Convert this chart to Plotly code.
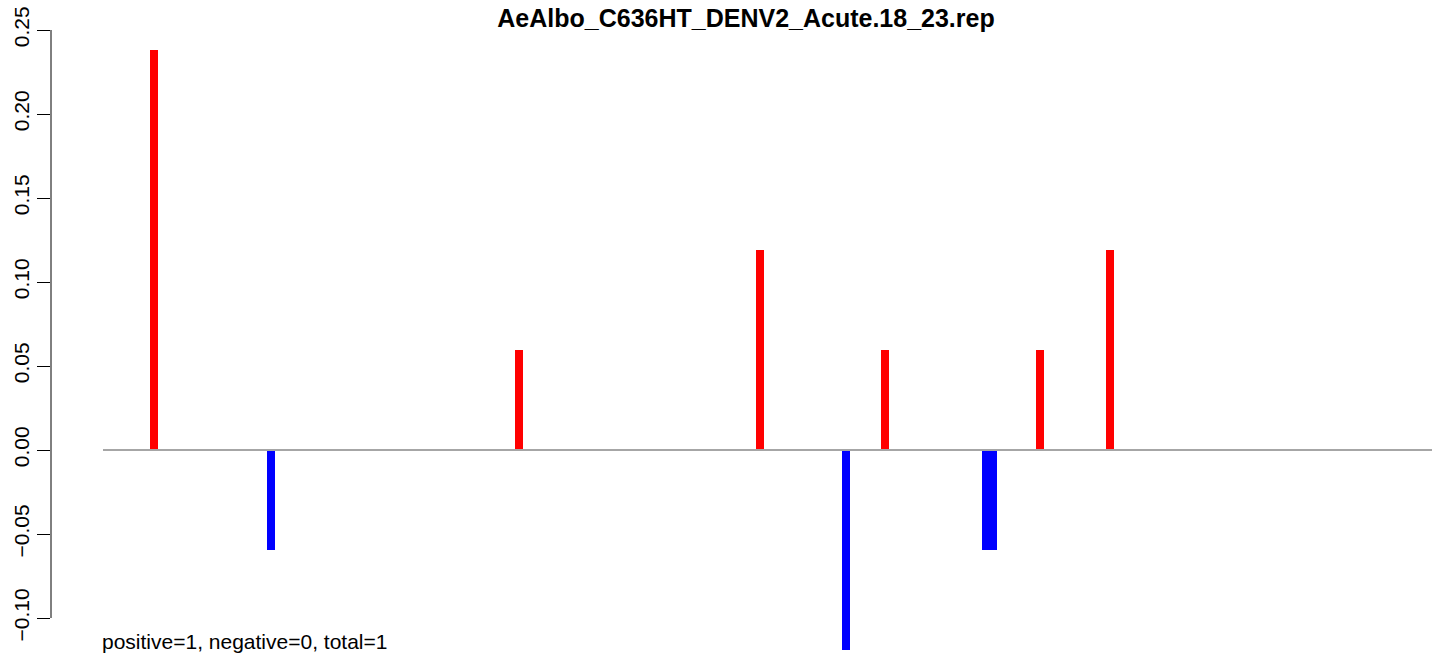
import plotly.graph_objects as go

# Data (genomic positions along DENV2 genome, normalized read counts)
genome_start = 1
genome_end = 10723
positions = [412, 1356, 3357, 5301, 5995, 6310, 7125, 7181, 7560, 8125]
values = [0.238, -0.0595, 0.0595, 0.119, -0.119, 0.0595, -0.0595, -0.0595, 0.0595, 0.119]
y_ticks = [-0.10, -0.05, 0.00, 0.05, 0.10, 0.15, 0.20, 0.25]
title_text = "AeAlbo_C636HT_DENV2_Acute.18_23.rep"
footer_text = "positive=1, negative=0, total=1"

W, H = 1444, 660
ML, MR, MT, MB = 51, 3, 26, 0
plot_w = W - ML - MR
px_per_unit = (1432 - 103) / (genome_end - genome_start)
x0 = genome_start - 52 / px_per_unit
x1 = x0 + plot_w / px_per_unit
bar_w = 8 / px_per_unit
plot_h = H - MT - MB
px_per_y = 1680
y_top = 0.25 + 4 / px_per_y
y_bot = y_top - plot_h / px_per_y

colors = ["#FF0000" if v > 0 else "#0000FF" for v in values]

fig = go.Figure()
fig.add_trace(go.Scatter(
    x=[genome_start, genome_end], y=[0, 0], mode="lines",
    line=dict(color="#A6A6A6", width=2), hoverinfo="skip", showlegend=False))
fig.add_trace(go.Bar(
    x=positions, y=values, width=bar_w,
    marker=dict(color=colors, line=dict(width=0)), showlegend=False))

fig.add_shape(type="line", xref="paper", yref="y", x0=0, x1=0,
              y0=min(y_ticks), y1=max(y_ticks), line=dict(color="black", width=1))

fig.add_annotation(text=footer_text, xref="x", yref="paper",
                   x=genome_start, y=(H - MB - 641) / plot_h,
                   xanchor="left", yanchor="middle", showarrow=False,
                   xshift=-3, font=dict(size=21, color="black"))

fig.update_layout(
    width=W, height=H,
    margin=dict(l=ML, r=MR, t=MT, b=MB, autoexpand=False),
    paper_bgcolor="white", plot_bgcolor="white",
    font=dict(family="Liberation Sans, Arial, sans-serif", color="black"),
    title=dict(text="<b>" + title_text + "</b>", x=0.5, xref="paper",
               y=1 - 18 / H, yanchor="middle", yref="container",
               font=dict(size=25, color="black"), automargin=False),
    xaxis=dict(range=[x0, x1], visible=False, automargin=False),
    yaxis=dict(range=[y_bot, y_top],
               tickvals=y_ticks, tickformat=".2f", tickangle=-90,
               ticks="outside", ticklen=13, tickcolor="black", tickwidth=1,
               showgrid=False, zeroline=False, showline=False,
               automargin=False, ticklabeloverflow="allow",
               tickfont=dict(size=21, color="black")),
    bargap=0,
)

fig.write_html("out.html",
               config={"displayModeBar": False},
               post_script="document.body.style.margin='0';document.body.style.overflow='hidden';")
